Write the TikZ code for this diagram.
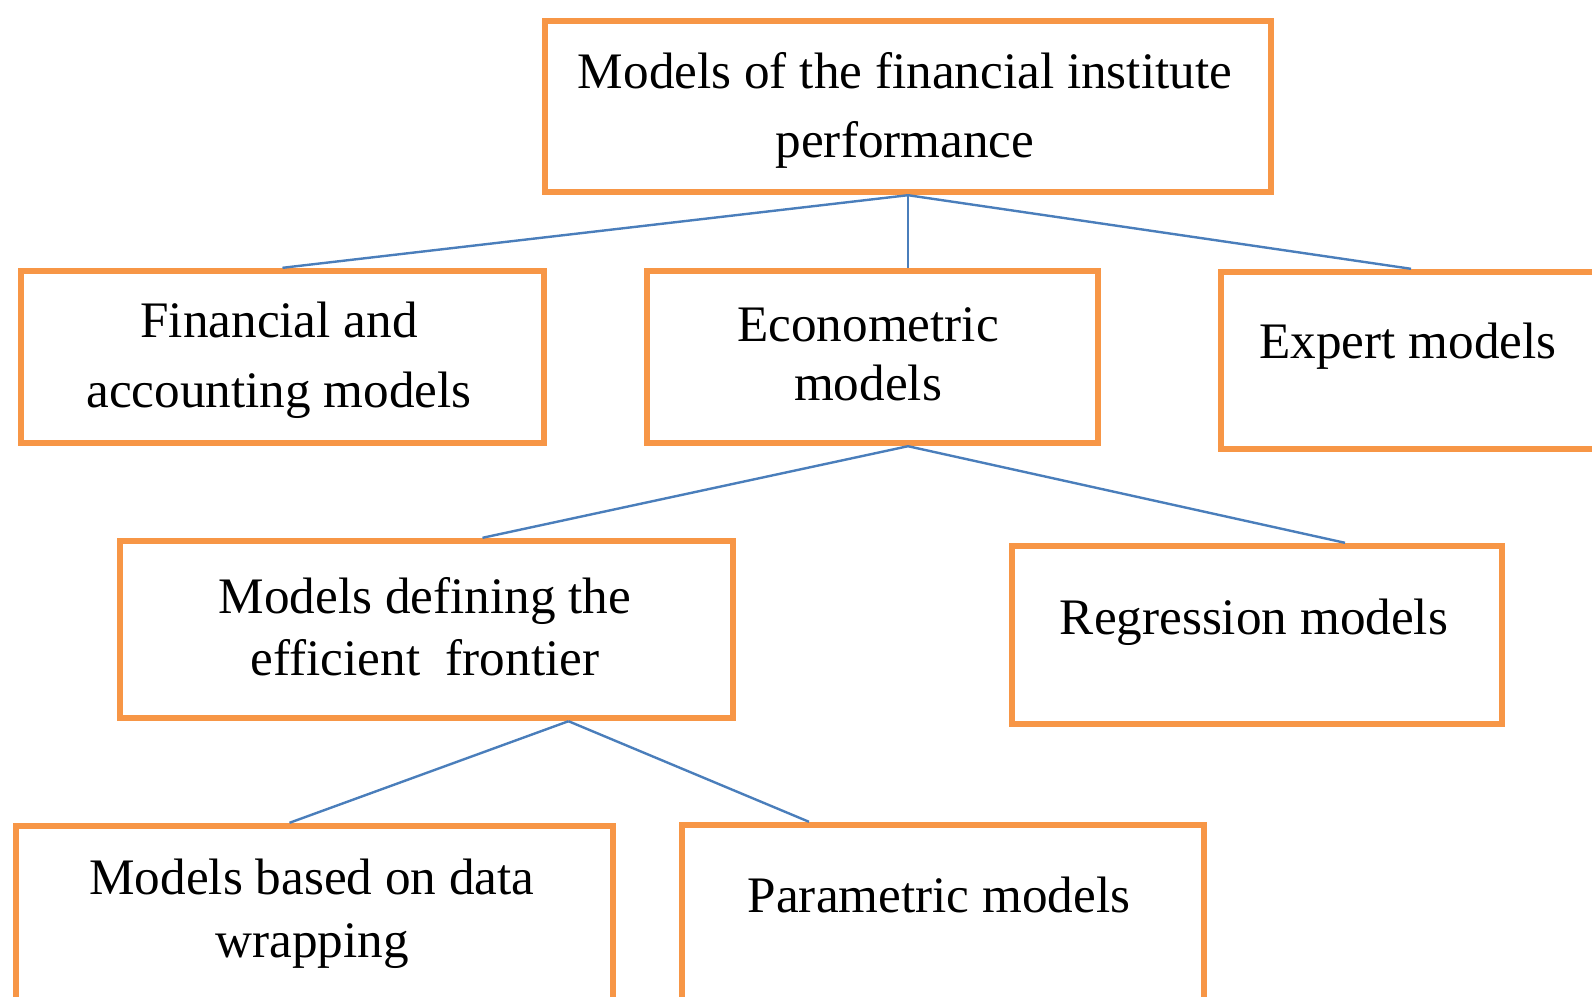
\documentclass[tikz,border=0pt]{standalone}
\usepackage{fontspec}
\setmainfont{Liberation Serif}
\usepackage{tikz}
\definecolor{boxorange}{HTML}{F79646}
\definecolor{linkblue}{HTML}{4A7EBB}

\begin{document}
\begin{tikzpicture}[x=0.5pt,y=-0.5pt,
  box/.style={draw=boxorange, line width=3.2pt, fill=white, rectangle, inner sep=0pt},
  lbl/.style={align=center, inner sep=0pt, font=\fontsize{25.6}{34}\selectfont},
  link/.style={draw=linkblue, line width=1.2pt}]
\useasboundingbox (0,0) rectangle (1592,997);
\clip (0,0) rectangle (1592,997);

% boxes
\node[box, minimum width=363pt, minimum height=85.5pt] (top) at (908,106.5) {};
\node[box, minimum width=261.5pt, minimum height=86pt] (fin) at (282.5,357) {};
\node[box, minimum width=225.5pt, minimum height=86pt] (econ) at (872.5,357) {};
\node[box, minimum width=199pt, minimum height=88.5pt] (expert) at (1420,360.5) {};
\node[box, minimum width=306.5pt, minimum height=88.5pt] (def) at (426.5,629.5) {};
\node[box, minimum width=245pt, minimum height=89pt] (reg) at (1257,635) {};
\node[box, minimum width=298.5pt, minimum height=97pt] (based) at (314.5,923) {};
\node[box, minimum width=261pt, minimum height=97.5pt] (param) at (943,922.5) {};

% texts
\node[lbl, font=\fontsize{25.6}{34.5}\selectfont] (topt) at (905,110) {Models of the financial institute\\performance};
\node[lbl, font=\fontsize{25.6}{35}\selectfont] (fint) at (279,360) {Financial and\\accounting models};
\node[lbl, font=\fontsize{25.6}{29.5}\selectfont] (econt) at (868,354) {Econometric\\models};
\node[lbl] (expertt) at (1408,346) {Expert models};
\node[lbl, font=\fontsize{25.6}{31}\selectfont] (deft) at (425,627) {Models defining the\\efficient\ \ frontier};
\node[lbl] (regt) at (1254,622) {Regression models};
\node[lbl, font=\fontsize{25.6}{31.5}\selectfont] (basedt) at (312,914) {Models based on data\\wrapping};
\node[lbl] (paramt) at (939,895) {Parametric models};

% connectors
\draw[link] (top.south) -- (fin.north);
\draw[link] (top.south) -- (top.south |- econ.north);
\draw[link] (top.south) -- ([xshift=-4.5pt]expert.north);
\draw[link] (top.south |- econ.south) -- ([xshift=28pt]def.north);
\draw[link] (top.south |- econ.south) -- ([xshift=44pt]reg.north);
\draw[link] ([xshift=71pt]def.south) -- ([xshift=-12.5pt]based.north);
\draw[link] ([xshift=71pt]def.south) -- ([xshift=-67pt]param.north);
\end{tikzpicture}
\end{document}
